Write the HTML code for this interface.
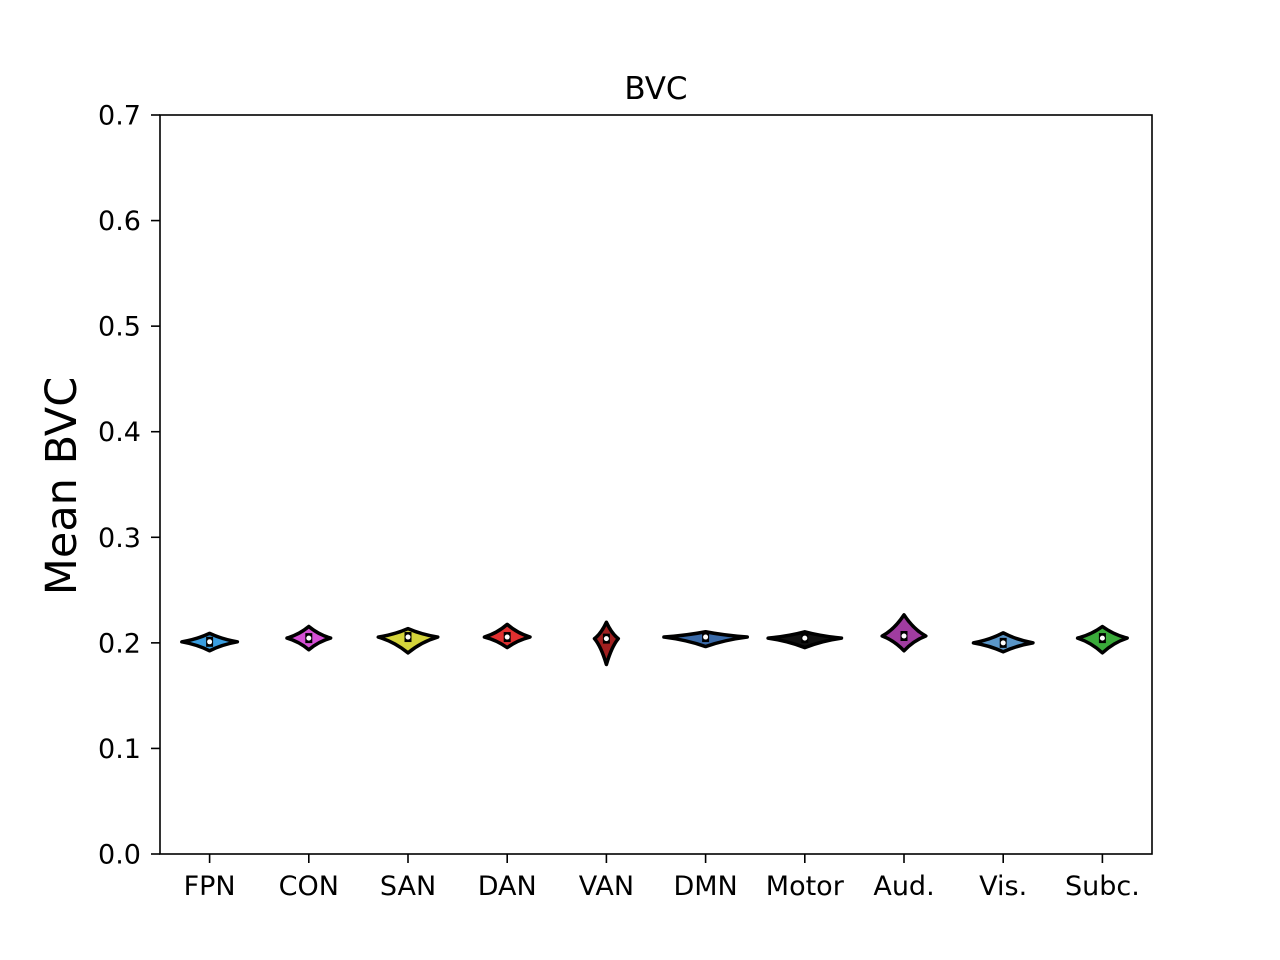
<!DOCTYPE html>
<html><head><meta charset="utf-8"><style>body{margin:0;background:#fff}svg{display:block;font-family:"DejaVu Sans","Liberation Sans",sans-serif}</style></head>
<body>
<svg id="chart" width="1280" height="960">
<rect x="0" y="0" width="1280" height="960" fill="#fff"/>
<text x="656" y="99" font-size="31" text-anchor="middle">BVC</text>
<text transform="translate(76,486) rotate(-90)" font-size="43" text-anchor="middle">Mean BVC</text>
<g id="yticks"></g><g id="xticks"></g><g id="violins"></g>
<rect x="160" y="115" width="992" height="739" fill="none" stroke="#000" stroke-width="1.6"/>
</svg>
<script>
const categories=["FPN","CON","SAN","DAN","VAN","DMN","Motor","Aud.","Vis.","Subc."];
const medians=[0.201,0.2045,0.2055,0.2055,0.204,0.2055,0.2045,0.2065,0.200,0.2045];
const maxs=[0.209,0.2155,0.2135,0.2175,0.2195,0.2105,0.2105,0.2265,0.2095,0.2155];
const mins=[0.1925,0.1935,0.1905,0.1955,0.1795,0.1965,0.1955,0.1925,0.1915,0.1905];
const widths=[0.28,0.22,0.30,0.23,0.12,0.42,0.37,0.22,0.30,0.25];
const colors=["#3a9ee0","#d64fd6","#d4d43a","#e03030","#a02020","#3a6aa8","#111","#a03ca0","#5a96c8","#3aaa3a"];
const yTicks=[0,0.1,0.2,0.3,0.4,0.5,0.6,0.7];
const NS="http://www.w3.org/2000/svg";
const y=v=>854-v/0.7*739;
const x=i=>160+49.6+i*99.2;
function mk(t,a,p){const e=document.createElementNS(NS,t);for(const k in a)e.setAttribute(k,a[k]);p.appendChild(e);return e;}
const yt=document.getElementById('yticks');
yTicks.forEach(v=>{
 const l=mk('line',{x1:151,x2:160,y1:y(v),y2:y(v),stroke:'#000','stroke-width':1.6},yt);
 
 
 const t=mk('text',{x:141,y:y(v)+9.5,'font-size':27,'text-anchor':'end'},yt);
 t.textContent=v.toFixed(1);
 
 
});
const xt=document.getElementById('xticks');
categories.forEach((c,i)=>{
 const l=mk('line',{x1:x(i),x2:x(i),y1:854,y2:863,stroke:'#000','stroke-width':1.6},xt);
 
 
 const t=mk('text',{x:x(i),y:895,'font-size':27,'text-anchor':'middle'},xt);
 t.textContent=c;
 
 
});
const vg=document.getElementById('violins');
categories.forEach((c,i)=>{
 const cx=x(i),m=y(medians[i]),t=y(maxs[i]),b=y(mins[i]),hw=widths[i]*99.2;
 const k=0.45;
 const d=`M${cx},${t} Q${cx+hw*k},${m-(m-t)*0.3} ${cx+hw},${m} Q${cx+hw*k},${m+(b-m)*0.3} ${cx},${b} Q${cx-hw*k},${m+(b-m)*0.3} ${cx-hw},${m} Q${cx-hw*k},${m-(m-t)*0.3} ${cx},${t} Z`;
 const p=mk('path',{d:d,fill:colors[i],stroke:'#000','stroke-width':3.5,'stroke-linejoin':'round'},vg);
 
 
 const bx=mk('line',{x1:cx,x2:cx,y1:m-5,y2:m+5,stroke:'#000','stroke-width':7},vg);
 
 
 const dot=mk('circle',{cx:cx,cy:m,r:2.5,fill:'#fff'},vg);
 
 
});
</script>
</body></html>
